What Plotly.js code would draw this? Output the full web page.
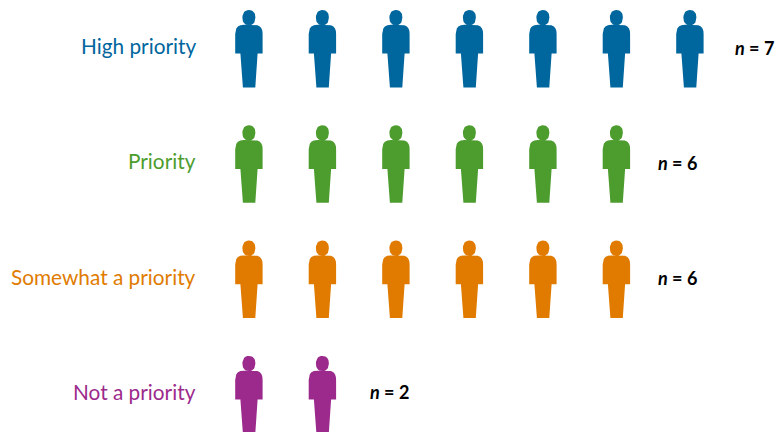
<!DOCTYPE html>
<html>
<head>
<meta charset="utf-8">
<script src="https://cdn.plot.ly/plotly-3.0.1.min.js"></script>
<style>html,body{margin:0;padding:0;background:#fff;overflow:hidden}#chart{width:776px;height:432px}</style>
</head>
<body>
<div id="chart"></div>
<script>
const categories = ["High priority", "Priority", "Somewhat a priority", "Not a priority"];
const counts = [7, 6, 6, 2];
const colors = ["#00669e", "#4c9c2e", "#e07b00", "#9c2a8c"];

const W = 776, H = 432;
const pxPerX = 73.5, pxPerY = 115.3;
const x0 = 248.9, y0 = 49;
const nShift = {7: 43.5, 6: 40, 2: 45.5};

// Person glyph outline in pixels, relative to the centre of the figure
function headOutline() {
  const pts = [];
  const n = 32, a = 6.5, b = 7.6, e = 2.3;
  for (let k = 0; k <= n; k++) {
    const t = 2 * Math.PI * k / n, c = Math.cos(t), s = Math.sin(t);
    pts.push([a * Math.sign(c) * Math.pow(Math.abs(c), 2 / e),
              -31.4 + b * Math.sign(s) * Math.pow(Math.abs(s), 2 / e)]);
  }
  return pts;
}
const bodyOutline = [
  [-5, -24.2], [5, -24.2], [8.5, -23.8], [11, -22.6], [12.6, -20.6], [13.5, -18], [13.7, -15],
  [13.7, 4.6], [8.7, 4.6], [6.4, 38.4], [-6, 38.4], [-8.5, 4.6], [-13.7, 4.6],
  [-13.7, -15], [-13.5, -18], [-12.6, -20.6], [-11, -22.6], [-8.5, -23.8], [-5, -24.2]
];

const traces = categories.map((name, r) => {
  const x = [], y = [];
  for (let i = 1; i <= counts[r]; i++) {
    [headOutline(), bodyOutline].forEach(poly => {
      poly.forEach(p => { x.push(i + p[0] / pxPerX); y.push(r + p[1] / pxPerY); });
      x.push(null); y.push(null);
    });
  }
  return {type: "scatter", mode: "lines", name, x, y, fill: "toself", fillcolor: colors[r],
          line: {width: 0, color: colors[r]}, hoverinfo: "name", showlegend: false};
});

const annotations = [];
categories.forEach((name, r) => {
  annotations.push({xref: "paper", x: 198.2 / W, yref: "y", y: r, yshift: 3.5, text: name,
    showarrow: false, xanchor: "right", yanchor: "middle",
    font: {family: "Lato", size: 20.8, color: colors[r]}});
  annotations.push({xref: "x", x: counts[r], xshift: nShift[counts[r]], yref: "y", y: r, yshift: r === 3 ? 3 : 1.5, text: "<b><i>n</i> = " + counts[r] + "</b>",
    showarrow: false, xanchor: "left", yanchor: "middle",
    font: {family: "Lato", size: 18, color: "#000"}});
});

const layout = {
  width: W, height: H,
  margin: {l: 0, r: 0, t: 0, b: 0},
  paper_bgcolor: "#fff", plot_bgcolor: "#fff",
  xaxis: {range: [1 - x0 / pxPerX, 1 + (W - x0) / pxPerX], visible: false, fixedrange: true},
  yaxis: {range: [(H - y0) / pxPerY, -y0 / pxPerY], visible: false, fixedrange: true},
  annotations,
  showlegend: false
};
Plotly.newPlot("chart", traces, layout, {displayModeBar: false, staticPlot: true});
</script>
</body>
</html>
